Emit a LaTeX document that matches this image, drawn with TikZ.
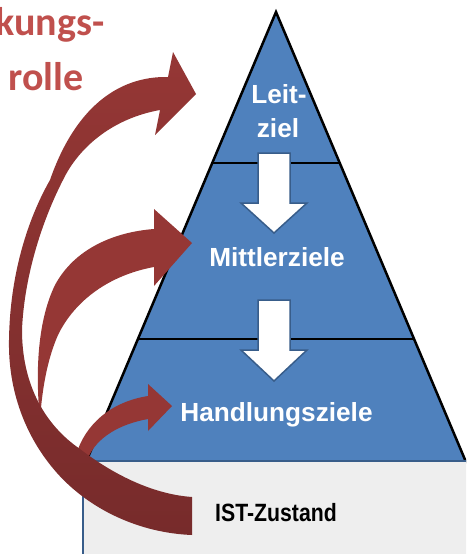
\documentclass[tikz,border=0pt]{standalone}
\usepackage{fontspec}
\setmainfont{Liberation Sans}
\newfontfamily\narrowfont[FakeStretch=0.85]{Liberation Sans}
\newfontfamily\calfont{Carlito}
\definecolor{pyrblue}{HTML}{4F81BD}
\definecolor{pyrline}{HTML}{385D8A}
\definecolor{boxgray}{HTML}{EEEEEE}
\definecolor{redfront}{HTML}{953735}
\definecolor{redback}{HTML}{772B2B}
\definecolor{titlered}{HTML}{C0504D}

\begin{document}
\begin{tikzpicture}
  [x=1pt, y=-1pt,
  stufe/.style={text=white, inner sep=0pt, anchor=base,
    font=\bfseries\fontsize{26.2}{30}\selectfont},
  weisspfeil/.style={fill=white, draw=pyrline, line width=1.5pt},
  rotpfeil/.style={fill=redfront},
  titel/.style={text=titlered, inner sep=0pt, anchor=base east,
    font=\calfont\bfseries\fontsize{40}{48}\selectfont}]
  \clip (0,0) rectangle (466,554);
  % pyramid with levels
  \filldraw[fill=pyrblue, draw=black, line width=2.5pt] (276,12) -- (86,462) -- (466,462) -- cycle;
  \draw[line width=2.5pt] (212.2,163) -- (339.8,163);
  \draw[line width=2.5pt] (137.9,339) -- (414.1,339);
  \foreach \t/\k/\s in {153/203/233, 300/350/381}
    \filldraw[weisspfeil] (258,\t) -- (290,\t) -- (290,\k) -- (307,\k) -- (274,\s)
      -- (241,\k) -- (258,\k) -- cycle;
  \filldraw[fill=boxgray, draw=pyrline, line width=2pt] (83,461) rectangle (480,570);
  \node[stufe] (leit) at (279,103) {Leit-};
  \node[stufe] (ziel) at (278,137) {ziel};
  \node[stufe] (mittler) at (277,266) {Mittlerziele};
  \node[stufe] (handlung) at (276.5,421.5) {Handlungsziele};
  \node[inner sep=0pt, anchor=base, font=\narrowfont\bfseries\fontsize{25}{30}\selectfont]
    (ist) at (276,521) {IST-Zustand};
  \node[titel] (kungs) at (104.5,35) {kungs-};
  \node[titel] (rolle) at (83.5,90) {rolle};
  % curved arrows
  \fill[rotpfeil] (172,406) -- (148,431) -- (148,419) .. controls (120,424) and (97,437) .. (88,458)
    -- (86,472) -- (72,472) -- (76,455) .. controls (85,425) and (110,402) .. (148,396)
    -- (148,384) -- cycle;
  \fill[rotpfeil] (192,243) -- (154,286) -- (154,267) .. controls (110,275) and (75,300) .. (58,335)
    .. controls (47,360) and (42,390) .. (40,420) .. controls (35,370) and (38,320) .. (55,285)
    .. controls (75,248) and (115,232) .. (154,229) -- (154,209) -- cycle;
  \shade[top color=redfront, bottom color=redback] (196,94) -- (155,135) -- (160,110)
    .. controls (115,118) and (80,145) .. (63,180) .. controls (40,225) and (24,280) .. (22,330)
    .. controls (22,385) and (45,425) .. (80,449) .. controls (110,472) and (150,494) .. (192,497)
    -- (192,535) .. controls (140,533) and (90,510) .. (57,473) .. controls (25,437) and (8,390) .. (9,340)
    .. controls (10,270) and (30,215) .. (50,180) .. controls (75,108) and (118,76) .. (168,77)
    -- (173,52) -- cycle;
\end{tikzpicture}
\end{document}
